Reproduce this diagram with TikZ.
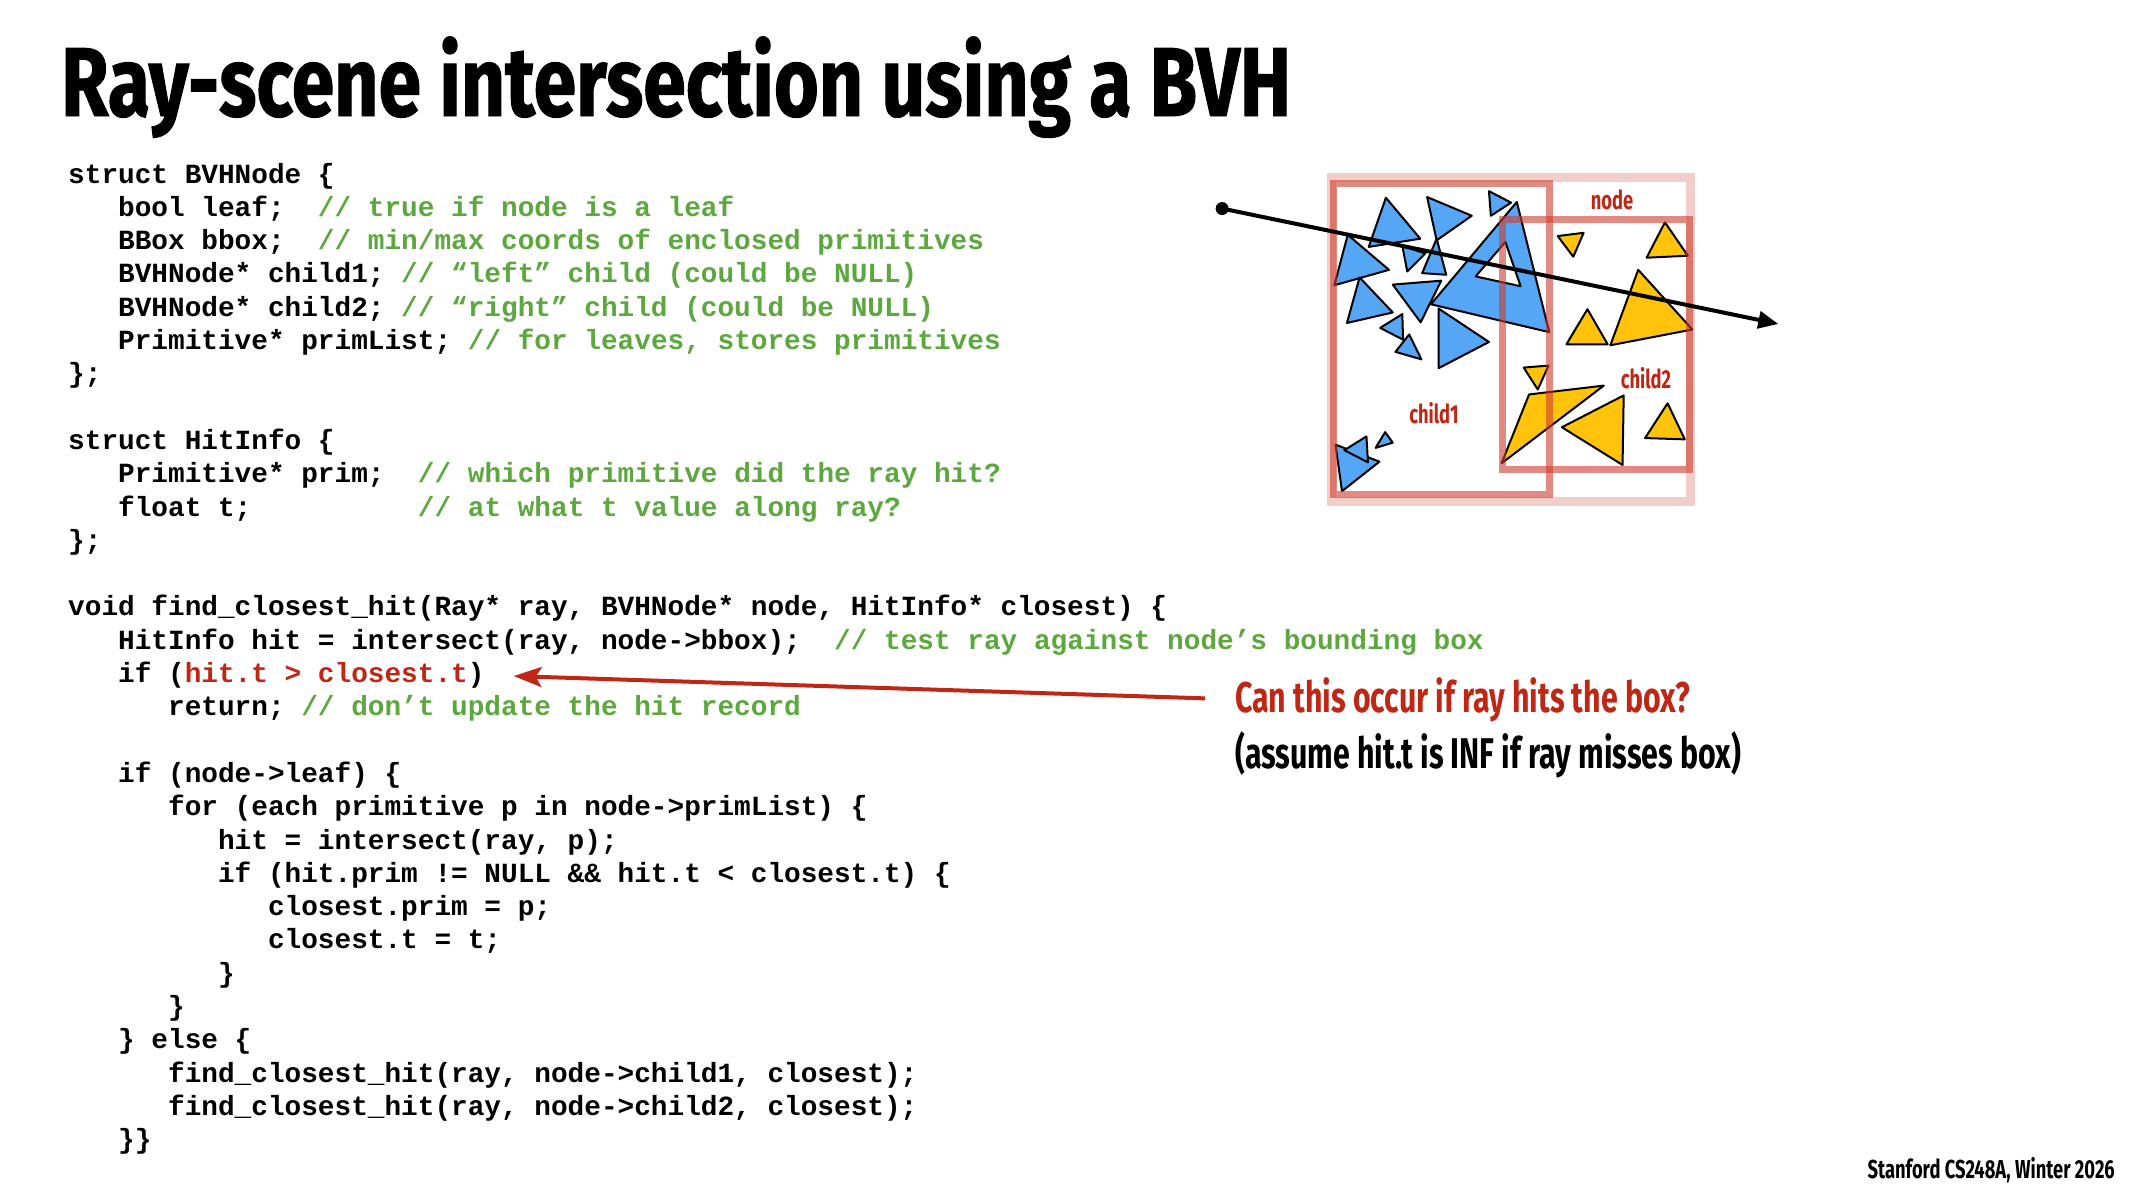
\documentclass[tikz,border=0pt]{standalone}
\usepackage{fontspec}
\setmainfont{Fira Sans}
\newfontfamily\slidefont{Fira Sans}[FakeStretch=0.705]
\newfontfamily\titlefont{Fira Sans}[FakeStretch=0.785, FakeBold=1]
\newfontfamily\codefont{Liberation Mono}
\usetikzlibrary{arrows.meta}

\definecolor{cmtgreen}{RGB}{92,168,62}
\definecolor{hlred}{RGB}{192,38,20}
\definecolor{boxred}{RGB}{205,60,45}
\definecolor{primblue}{RGB}{85,166,245}
\definecolor{primyellow}{RGB}{255,195,12}

\newcommand{\cmt}[1]{\textcolor{cmtgreen}{#1}}

\tikzset{
  code/.style={anchor=base west, inner sep=0pt, font=\codefont\bfseries\fontsize{27.75}{28}\selectfont},
  slidetitle/.style={anchor=base west, inner sep=0pt, font=\titlefont\bfseries\fontsize{98}{110}\selectfont},
  ask/.style={anchor=base west, inner sep=0pt, text=hlred, font=\slidefont\bfseries\fontsize{43}{50}\selectfont},
  note/.style={anchor=base west, inner sep=0pt, font=\slidefont\bfseries\fontsize{43}{50}\selectfont},
  credit/.style={anchor=base east, inner sep=0pt, font=\slidefont\bfseries\fontsize{26}{30}\selectfont},
  boxlabel/.style={inner sep=0pt, text=hlred, font=\slidefont\bfseries\fontsize{26}{30}\selectfont},
  blueprim/.style={fill=primblue, draw=black, line width=2pt, line join=round},
  yellowprim/.style={fill=primyellow, draw=black, line width=2pt, line join=round},
  childbox/.style={draw=boxred, draw opacity=0.6, line width=7pt},
  hint/.style={draw=hlred, line width=4pt, -{Stealth[length=28pt,width=20pt,inset=6pt]}}
}

\begin{document}
\begin{tikzpicture}[x=1pt, y=-1pt]
  \fill[white] (0,0) rectangle (2133,1200);
  \useasboundingbox (0,0) rectangle (2133,1200);

  \node[slidetitle] (title) at (61,116) {Ray-scene intersection using a BVH};

  % code listing: line number / indent level / text
  \foreach \ln/\lvl/\txt in {
    0/0/{struct BVHNode \{},
    1/1/{bool leaf;~~\cmt{// true if node is a leaf}},
    2/1/{BBox bbox;~~\cmt{// min/max coords of enclosed primitives}},
    3/1/{BVHNode* child1; \cmt{// “left” child (could be NULL)}},
    4/1/{BVHNode* child2; \cmt{// “right” child (could be NULL)}},
    5/1/{Primitive* primList; \cmt{// for leaves, stores primitives}},
    6/0/{\};},
    8/0/{struct HitInfo \{},
    9/1/{Primitive* prim;~~\cmt{// which primitive did the ray hit?}},
    10/1/{float t;~~~~~~~~~~\cmt{// at what t value along ray?}},
    11/0/{\};},
    13/0/{void find\_closest\_hit(Ray* ray, BVHNode* node, HitInfo* closest) \{},
    14/1/{HitInfo hit = intersect(ray, node->bbox);~~\cmt{// test ray against node’s bounding box}},
    15/1/{if (\textcolor{hlred}{hit.t > closest.t})},
    16/2/{return; \cmt{// don’t update the hit record}},
    18/1/{if (node->leaf) \{},
    19/2/{for (each primitive p in node->primList) \{},
    20/3/{hit = intersect(ray, p);},
    21/3/{if (hit.prim != NULL \&\& hit.t < closest.t) \{},
    22/4/{closest.prim = p;},
    23/4/{closest.t = t;},
    24/3/{\}},
    25/2/{\}},
    26/1/{\} else \{},
    27/2/{find\_closest\_hit(ray, node->child1, closest);},
    28/2/{find\_closest\_hit(ray, node->child2, closest);},
    29/1/{\}\}}
  }
    \node[code] (line\ln) at ({68+49.95*\lvl},{183+33.3*\ln}) {\txt};

  \node[ask] (question) at (1235,712) {Can this occur if ray hits the box?};
  \node[note] (assume) at (1235,768) {(assume hit.t is INF if ray misses box)};
  \draw[hint, shorten <=30pt, shorten >=29pt] (question.west) -- (line15.east);

  % BVH picture
  \begin{scope}[shift={(1200,160)}, xscale=0.3817, yscale=0.3279]
    \draw[draw=boxred, draw opacity=0.25, line width=9pt] (345,52) rectangle (1285,1040);

    \foreach \ax/\ay/\bx/\by/\cx/\cy in {487/115/442/265/577/240, 595/113/712/170/620/245,
        757/95/815/130/762/170, 387/228/495/335/352/382,
        418/358/505/465/385/497, 505/380/632/368/578/495,
        530/262/590/285/543/340, 620/240/582/345/645/350,
        830/128/605/440/915/525, 625/453/757/555/625/635,
        472/512/530/470/532/548, 548/532/512/585/580/608,
        355/868/470/920/372/1010, 436/843/440/922/378/885,
        485/830/505/862/460/878}
      \filldraw[blueprim] (\ax,\ay) -- (\bx,\by) -- (\cx,\cy) -- cycle;
    \filldraw[fill=white, draw=black, line width=2pt, line join=round] (800,250) -- (722,355) -- (840,385) -- cycle;

    \foreach \ax/\ay/\bx/\by/\cx/\cy in {937/232/1005/222/978/295, 1218/190/1278/292/1170/298,
        1015/455/1068/562/960/562, 1148/335/1290/517/1075/565,
        848/633/913/627/885/700, 862/715/1058/688/790/925,
        1110/718/948/815/1107/930, 1225/742/1270/852/1166/848}
      \filldraw[yellowprim] (\ax,\ay) -- (\bx,\by) -- (\cx,\cy) -- cycle;

    \draw[childbox] (350,72) rectangle (915,1020);
    \draw[childbox] (792,182) rectangle (1282,945);

    \node[circle, fill=black, inner sep=0pt, minimum size=13pt] (raystart) at (58,148) {};
    \coordinate (rayend) at (1515,500);
    \draw[line width=4pt, -{Triangle[length=20pt,width=17pt]}] (raystart.center) -- (rayend);
  \end{scope}

  \node[boxlabel] (nodelabel) at (1612,200) {node};
  \node[boxlabel] (child1label) at (1434,413) {child1};
  \node[boxlabel] (child2label) at (1646,378) {child2};

  \node[credit] (footer) at (2115,1178) {Stanford CS248A, Winter 2026};
\end{tikzpicture}
\end{document}
